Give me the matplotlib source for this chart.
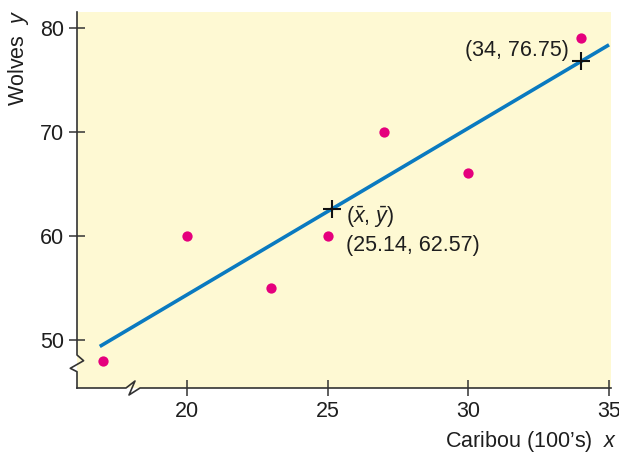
import numpy as np
import matplotlib
matplotlib.use("Agg")
import matplotlib.pyplot as plt

plt.rcParams['font.family'] = ['Liberation Sans', 'DejaVu Sans']
plt.rcParams['mathtext.fontset'] = 'custom'
plt.rcParams['mathtext.it'] = 'Liberation Sans:italic'
plt.rcParams['mathtext.rm'] = 'Liberation Sans'

# -----------------------------
# Data
# -----------------------------
caribou = [17, 20, 23, 25, 27, 30, 34]
wolves  = [48, 60, 55, 60, 70, 66, 79]

x_ticks = [20, 25, 30, 35]
y_ticks = [50, 60, 70, 80]

# rounded regression coefficients (y = a + b x)
a, b = 22.35, 1.60
line_x = [16.9, 35.0]

x_bar = np.mean(caribou)
y_bar = np.mean(wolves)
x_pred = 34
y_pred = a + b * x_pred

ink = "#333333"
txt = "#1e1e1e"
bg = "#fef9d3"
fs = 15.5

fig = plt.figure(figsize=(6.19, 4.53), dpi=100)
ax = fig.add_axes([77/619, 1 - 388/453, 534/619, 376/453])
ax.set_facecolor(bg)

ax.set_xlim(16.09, 35.07)
ax.set_ylim(45.4, 81.5)

lx = np.array(line_x)
ax.plot(lx, a + b * lx, color="#0a7ac0", lw=2.6, solid_capstyle="butt", zorder=2)
ax.plot(caribou, wolves, "o", color="#e5007d", ms=7.4, mec="none", zorder=3)
ax.plot([x_bar, x_pred], [y_bar, y_pred], "+", color="#111111", ms=12.5, mew=1.5, zorder=4)

ax.annotate(r"($\bar{x}$, $\bar{y}$)", (x_bar, y_bar), xytext=(10, -6),
            textcoords="offset points", fontsize=fs, color=txt, ha="left", va="center")
ax.annotate(f"({x_bar:.2f}, {y_bar:.2f})", (x_bar, y_bar), xytext=(10, -26),
            textcoords="offset points", fontsize=fs, color=txt, ha="left", va="center")
ax.annotate(f"({x_pred}, {y_pred:.2f})", (x_pred, y_pred), xytext=(-8.5, 8),
            textcoords="offset points", fontsize=fs, color=txt, ha="right", va="center")

# ticks
ax.set_xticks(x_ticks)
ax.set_yticks(y_ticks)
ax.tick_params(direction="inout", length=11, width=1.1, color=ink, labelsize=fs,
               labelcolor=txt, pad=4)
for s in ax.spines.values():
    s.set_visible(False)

# spines with break marks (axes pixel coordinates)
W, H = 534.0, 376.0
def px(pts):
    return [p[0] / W for p in pts], [p[1] / H for p in pts]

left_pts = [(0, H), (0, 388 - 355), (6.6, 388 - 360.7), (-6.7, 388 - 368.3), (0, 388 - 371.7), (0, 0)]
bottom_pts = [(0, 0), (126 - 77, 0), (135 - 77, 7), (129 - 77, -7), (140 - 77, 0), (W, 0)]
for pts in (left_pts, bottom_pts):
    xs, ys = px(pts)
    ax.plot(xs, ys, color=ink, lw=1.2, transform=ax.transAxes, clip_on=False, zorder=5)

fig.text(617/619, 1 - 441/453, r"Caribou (100’s)  $x$", fontsize=fs, color=txt,
         ha="right", va="center")
fig.text(19/619, 1 - 10/453, r"Wolves  $y$", fontsize=fs, color=txt,
         ha="center", va="top", rotation=90)

fig.savefig("out.png", dpi=100, facecolor="white")
